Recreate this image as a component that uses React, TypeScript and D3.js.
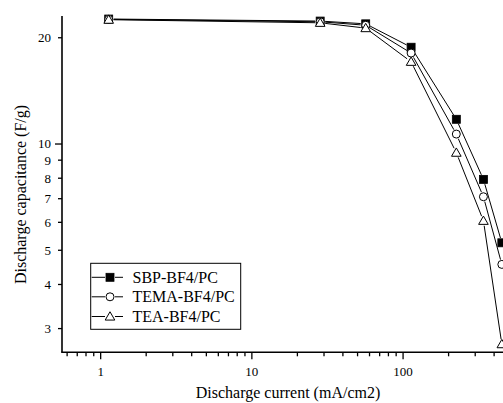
import React from "react";
import * as d3 from "d3";

const W = 503;
const H = 403;

// Discharge current (mA/cm2)
const currents = [1.13, 28.3, 56.6, 113, 225, 340, 450];
// Discharge capacitance (F/g) per electrolyte
const sbp = [22.6, 22.3, 21.9, 18.8, 11.75, 7.94, 5.25];
const tema = [22.55, 22.2, 21.7, 18.1, 10.67, 7.09, 4.56];
const tea = [22.5, 22.05, 21.3, 17.1, 9.45, 6.06, 2.71];

const seriesNames = ["SBP-BF4/PC", "TEMA-BF4/PC", "TEA-BF4/PC"];
const seriesValues = [sbp, tema, tea];
const seriesMarkers = ["square", "circle", "triangle"];

const yTickLabels = [3, 4, 5, 6, 7, 8, 9, 10, 20];
const yMinorTicks = [3, 4, 5, 6, 7, 8, 9, 20];
const yMajorTicks = [10];
const xMajorTicks = [1, 10, 100];
const xMinorTicks = [0.6, 0.7, 0.8, 0.9, 2, 3, 4, 5, 6, 7, 8, 9, 20, 30, 40, 50, 60, 70, 80, 90, 200, 300, 400];

const FONT = "'Liberation Serif', 'Times New Roman', serif";

function Marker({ type, x, y }: { type: string; x: number; y: number }) {
  if (type === "square") {
    return <rect x={x - 4} y={y - 4} width={8} height={8} fill="#000" stroke="#000" strokeWidth={0.8} />;
  }
  if (type === "circle") {
    return <circle cx={x} cy={y} r={4} fill="#fff" stroke="#000" strokeWidth={1} />;
  }
  const tri = d3.symbol().type(d3.symbolTriangle).size(40)();
  return <path d={tri || ""} transform={`translate(${x},${y + 0.8})`} fill="#fff" stroke="#000" strokeWidth={1} />;
}

function gappedSegments(pts: [number, number][], gap: number) {
  const segs: string[] = [];
  for (let i = 0; i < pts.length - 1; i++) {
    const [x1, y1] = pts[i];
    const [x2, y2] = pts[i + 1];
    const dx = x2 - x1;
    const dy = y2 - y1;
    const len = Math.hypot(dx, dy);
    if (len <= 2 * gap) continue;
    const ux = dx / len;
    const uy = dy / len;
    segs.push(
      `M${x1 + ux * gap},${y1 + uy * gap}L${x2 - ux * gap},${y2 - uy * gap}`
    );
  }
  return segs.join("");
}

export default function App() {
  const x = d3.scaleLog().domain([0.555, 458]).range([62, 503]);
  const y = d3.scaleLog().domain([2.57, 23.05]).range([352.3, 16]);
  const x0 = x.range()[0];
  const y0 = y.range()[0];

  const legendX = 90.7;
  const legendY = 263.3;
  const rowYs = [277.3, 296.8, 316.5];

  return (
    <div style={{ position: "fixed", left: 0, top: 0, width: W, height: H, background: "#fff" }}>
      <svg width={W} height={H} style={{ display: "block" }} fontFamily={FONT}>
        <rect x={0} y={0} width={W} height={H} fill="#fff" />

        {/* data lines with gaps around markers */}
        {seriesValues.map((vals, si) => {
          const pts = currents.map((c, i) => [x(c), y(vals[i])] as [number, number]);
          return (
            <path key={`l${si}`} d={gappedSegments(pts, 5)} fill="none" stroke="#000" strokeWidth={1} />
          );
        })}
        {seriesValues.map((vals, si) =>
          currents.map((c, i) => (
            <Marker key={`m${si}-${i}`} type={seriesMarkers[si]} x={x(c)} y={y(vals[i])} />
          ))
        )}

        {/* axes */}
        <line x1={x0} y1={16} x2={x0} y2={y0} stroke="#000" strokeWidth={1.6} />
        <line x1={x0 - 0.8} y1={y0} x2={W} y2={y0} stroke="#000" strokeWidth={1.6} />

        {yMajorTicks.map((t) => (
          <line key={`ym${t}`} x1={x0 - 7} x2={x0} y1={y(t)} y2={y(t)} stroke="#000" strokeWidth={1.3} />
        ))}
        {yMinorTicks.map((t) => (
          <line key={`yn${t}`} x1={x0 - 4} x2={x0} y1={y(t)} y2={y(t)} stroke="#000" strokeWidth={1.3} />
        ))}
        {yTickLabels.map((t) => (
          <text key={`yl${t}`} x={x0 - 11} y={y(t)} dy="0.34em" textAnchor="end" fontSize={13}>
            {t}
          </text>
        ))}

        {xMajorTicks.map((t) => (
          <line key={`xm${t}`} x1={x(t)} x2={x(t)} y1={y0} y2={y0 + 7} stroke="#000" strokeWidth={1.3} />
        ))}
        {xMinorTicks.map((t) => (
          <line key={`xn${t}`} x1={x(t)} x2={x(t)} y1={y0} y2={y0 + 4} stroke="#000" strokeWidth={1.3} />
        ))}
        {xMajorTicks.map((t) => (
          <text key={`xl${t}`} x={x(t)} y={y0 + 23.5} textAnchor="middle" fontSize={13}>
            {t}
          </text>
        ))}

        {/* axis titles */}
        <text x={288} y={397.5} textAnchor="middle" fontSize={16}>
          Discharge current (mA/cm2)
        </text>
        <text
          transform={`translate(25.5,194.5) rotate(-90)`}
          textAnchor="middle"
          fontSize={16}
        >
          Discharge capacitance (F/g)
        </text>

        {/* legend */}
        <rect x={legendX} y={legendY} width={150} height={66} fill="#fff" stroke="#000" strokeWidth={1} />
        {seriesNames.map((name, i) => (
          <g key={`lg${i}`}>
            <line x1={legendX + 1} x2={105} y1={rowYs[i]} y2={rowYs[i]} stroke="#000" strokeWidth={1} />
            <line x1={115} x2={123} y1={rowYs[i]} y2={rowYs[i]} stroke="#000" strokeWidth={1} />
            <Marker type={seriesMarkers[i]} x={110} y={rowYs[i]} />
            <text x={132.5} y={rowYs[i]} dy="0.34em" fontSize={16}>
              {name}
            </text>
          </g>
        ))}
      </svg>
    </div>
  );
}
